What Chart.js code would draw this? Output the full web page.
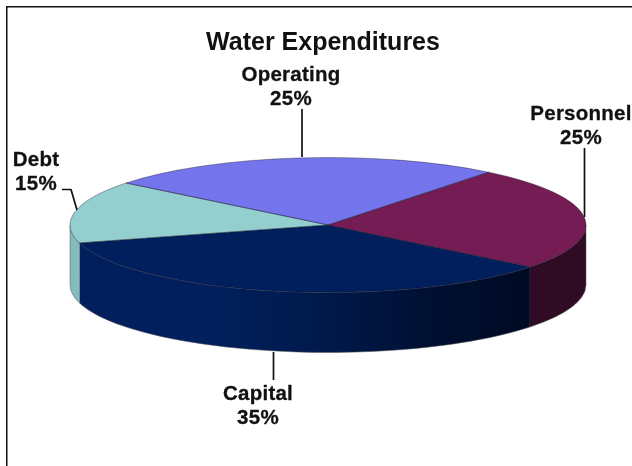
<!DOCTYPE html>
<html>
<head>
<meta charset="utf-8">
<title>Water Expenditures</title>
<script src="https://cdn.jsdelivr.net/npm/chart.js@4"></script>
<style>
  html, body { margin: 0; padding: 0; background: #fff; overflow: hidden; }
  canvas { display: block; }
</style>
</head>
<body>
<canvas id="pie" width="632" height="466"></canvas>
<script>
const categories = ['Personnel', 'Capital', 'Debt', 'Operating'];
const percents = [25, 35, 15, 25];

const topColors = ['#751C54', '#001F5C', '#93CFCF', '#7474EC'];
const wallStops = [
  [[0, '#300C24'], [1, '#300C24']],
  [[0, '#001F5C'], [0.3, '#001F5C'], [0.55, '#00194A'], [0.8, '#000F30'], [1, '#000A24']],
  [[0, '#84BCBC'], [1, '#84BCBC']],
  [[0, '#5A5AC0'], [1, '#5A5AC0']]
];

// tilted disc: where the top ellipse sits and how thick the wall is
const disc = { x: 328, y: 225, rx: 258, ry: 67.5, depth: 60 };

// label blocks and their leader lines, one entry per category
const labelLayout = [
  { x: 581, y: 114, line: [[584.5, 148], [584.5, 217]] },
  { x: 258, y: 394, line: [[273.5, 352], [273.5, 380]] },
  { x: 36, y: 160, line: [[62, 189.5], [71, 189.5], [77, 210]] },
  { x: 291, y: 75, line: [[302, 109], [302, 157]] }
];

function wallPath(ctx, start, end) {
  ctx.beginPath();
  ctx.ellipse(disc.x, disc.y, disc.rx, disc.ry, 0, start, end);
  ctx.ellipse(disc.x, disc.y + disc.depth, disc.rx, disc.ry, 0, end, start, true);
  ctx.closePath();
}

const discPlugin = {
  id: 'disc',
  beforeDraw(chart) {
    const ctx = chart.ctx;
    ctx.save();
    ctx.fillStyle = '#fff';
    ctx.fillRect(0, 0, chart.width, chart.height);
    ctx.fillStyle = '#111';
    ctx.fillRect(6, 6, chart.width - 6, 1.5);
    ctx.fillRect(6, 6, 1.5, chart.height - 6);
    ctx.restore();
  },
  beforeDatasetsDraw(chart) {
    const ctx = chart.ctx;
    const arcs = chart.getDatasetMeta(0).data;

    // only the front half of the wall can be seen
    ctx.save();
    arcs.forEach((arc, i) => {
      const start = Math.max(arc.startAngle, 0);
      const end = Math.min(arc.endAngle, Math.PI);
      if (end <= start) return;
      const x0 = disc.x + disc.rx * Math.cos(end);
      const x1 = disc.x + disc.rx * Math.cos(start);
      const fill = ctx.createLinearGradient(x0, 0, x1, 0);
      wallStops[i].forEach(s => fill.addColorStop(s[0], s[1]));
      wallPath(ctx, start, end);
      ctx.fillStyle = fill;
      ctx.fill();
    });
    wallPath(ctx, 0, Math.PI);
    ctx.strokeStyle = 'rgba(90,90,90,0.5)';
    ctx.lineWidth = 1;
    ctx.stroke();
    ctx.restore();

    // the library draws the slices, squashed onto the ellipse
    const r = arcs[0].outerRadius;
    ctx.save();
    ctx.translate(disc.x, disc.y);
    ctx.scale(disc.rx / r, disc.ry / r);
    ctx.translate(-arcs[0].x, -arcs[0].y);
  },
  afterDatasetsDraw(chart) {
    const ctx = chart.ctx;
    ctx.restore();

    const arcs = chart.getDatasetMeta(0).data;
    ctx.save();
    ctx.lineWidth = 1;
    ctx.lineJoin = 'round';
    arcs.forEach(arc => {
      ctx.beginPath();
      ctx.moveTo(disc.x, disc.y);
      ctx.ellipse(disc.x, disc.y, disc.rx, disc.ry, 0, arc.startAngle, arc.endAngle);
      ctx.closePath();
      ctx.strokeStyle = 'rgba(20,20,40,0.38)';
      ctx.stroke();
    });

    // leader lines
    ctx.strokeStyle = '#111';
    ctx.lineWidth = 1.7;
    labelLayout.forEach(item => {
      ctx.beginPath();
      item.line.forEach((p, i) => i ? ctx.lineTo(p[0], p[1]) : ctx.moveTo(p[0], p[1]));
      ctx.stroke();
    });

    // slice labels
    ctx.fillStyle = '#111';
    ctx.strokeStyle = '#111';
    ctx.lineWidth = 0.3;
    ctx.font = 'bold 20.5px "Liberation Sans", Arial, sans-serif';
    ctx.letterSpacing = '0.25px';
    ctx.textAlign = 'center';
    ctx.textBaseline = 'middle';
    labelLayout.forEach((item, i) => {
      [categories[i], percents[i] + '%'].forEach((line, n) => {
        ctx.fillText(line, item.x, item.y + n * 24.5);
        ctx.strokeText(line, item.x, item.y + n * 24.5);
      });
    });
    ctx.restore();
  }
};

new Chart(document.getElementById('pie').getContext('2d'), {
  type: 'pie',
  data: {
    labels: categories,
    datasets: [{
      data: percents,
      backgroundColor: topColors,
      borderWidth: 0,
      clip: false
    }]
  },
  options: {
    responsive: false,
    animation: false,
    events: [],
    rotation: 38.5,
    layout: { padding: { left: 14 } },
    plugins: {
      legend: { display: false },
      tooltip: { enabled: false },
      title: {
        display: true,
        text: 'Water Expenditures',
        color: '#111',
        font: { family: '"Liberation Sans", Arial, sans-serif', size: 25, weight: 'bold' },
        padding: { top: 28, bottom: 10 }
      }
    }
  },
  plugins: [discPlugin]
});
</script>
</body>
</html>
